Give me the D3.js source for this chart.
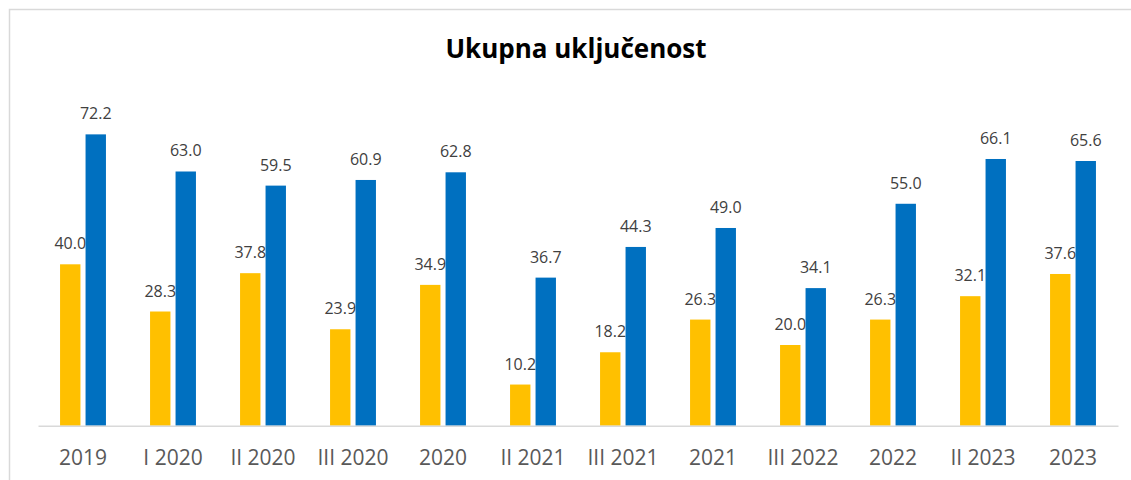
<!DOCTYPE html>
<html>
<head>
<meta charset="utf-8">
<script src="https://cdn.jsdelivr.net/npm/d3@7"></script>
<style>
  body { margin: 0; background: #ffffff; }
  svg { display: block; font-family: "Open Sans", sans-serif; }
</style>
</head>
<body>
<div id="chart"></div>
<script>
// Podaci
const categories = ["2019", "I 2020", "II 2020", "III 2020", "2020", "II 2021", "III 2021", "2021", "III 2022", "2022", "II 2023", "2023"];
const seriesNames = ["s1", "s2"];
const yellowValues = [40.0, 28.3, 37.8, 23.9, 34.9, 10.2, 18.2, 26.3, 20.0, 26.3, 32.1, 37.6];
const blueValues = [72.2, 63.0, 59.5, 60.9, 62.8, 36.7, 44.3, 49.0, 34.1, 55.0, 66.1, 65.6];

const width = 1131, height = 480;
const colors = { s1: "#FFC000", s2: "#0070C0" };

const svg = d3.select("#chart")
    .append("svg")
    .attr("width", width)
    .attr("height", height);

// Okvir grafikona
svg.append("rect")
    .attr("x", 9.5)
    .attr("y", 9.5)
    .attr("width", 1300)
    .attr("height", 700)
    .attr("fill", "#ffffff")
    .attr("stroke", "#d9d9d9")
    .attr("stroke-width", 1.5);

const x = d3.scaleBand()
    .domain(categories)
    .range([38, 1118]);

const xInner = d3.scaleBand()
    .domain(seriesNames)
    .range([x.bandwidth() * 0.245, x.bandwidth() * 0.755])
    .paddingInner(0.2);

const y = d3.scaleLinear()
    .domain([0, 80])
    .range([425.7, 102.9]);

// Naslov
svg.append("text")
    .attr("x", 576)
    .attr("y", 58)
    .attr("text-anchor", "middle")
    .attr("font-size", "26px")
    .attr("font-weight", "bold")
    .attr("fill", "#000000")
    .text("Ukupna uključenost");

function drawSeries(values, key) {
    const g = svg.append("g");
    g.selectAll("rect")
        .data(values)
        .enter()
        .append("rect")
        .attr("x", (d, i) => x(categories[i]) + xInner(key))
        .attr("y", d => y(d))
        .attr("width", xInner.bandwidth())
        .attr("height", d => y(0) - y(d))
        .attr("fill", colors[key]);

    g.selectAll("text")
        .data(values)
        .enter()
        .append("text")
        .attr("x", (d, i) => x(categories[i]) + xInner(key) + xInner.bandwidth() / 2)
        .attr("y", d => y(d) - 15)
        .attr("text-anchor", "middle")
        .attr("font-size", "16px")
        .attr("fill", "#404040")
        .text(d => d.toFixed(1));
}

drawSeries(yellowValues, "s1");
drawSeries(blueValues, "s2");

// Os X
const xAxis = svg.append("g")
    .attr("transform", `translate(0,${y(0)})`)
    .call(d3.axisBottom(x).tickSize(0).tickPadding(24));

xAxis.select(".domain")
    .attr("stroke", "#d9d9d9")
    .attr("stroke-width", 1.5);

xAxis.selectAll("text")
    .attr("font-family", "Open Sans, sans-serif")
    .attr("font-size", "21px")
    .attr("fill", "#595959");
</script>
</body>
</html>
